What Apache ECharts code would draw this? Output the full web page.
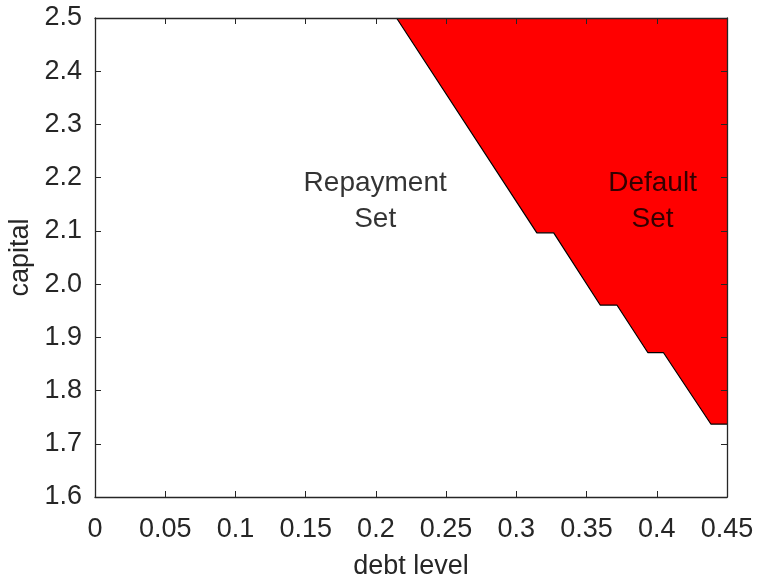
<!DOCTYPE html>
<html>
<head>
<meta charset="utf-8">
<script src="https://cdn.jsdelivr.net/npm/echarts@6/dist/echarts.min.js"></script>
<style>
html,body{margin:0;padding:0;background:#fff;}
#chart{width:757px;height:579px;}
</style>
</head>
<body>
<div id="chart"></div>
<script>
// Boundary between repayment and default sets
const debtLevel = [0.2147, 0.3146, 0.3266, 0.3597, 0.3716, 0.3937, 0.4048, 0.4385, 0.45];
const capitalLevel = [2.5, 2.0964, 2.0964, 1.9607, 1.9607, 1.8711, 1.8711, 1.7371, 1.7371];
// Region annotations: [x, y, text]
const regionLabels = [
  [0.1995, 2.155, 'Repayment\nSet'],
  [0.397, 2.155, 'Default\nSet']
];
const xAxisRange = [0, 0.45, 0.05];
const yAxisRange = [1.6, 2.5, 0.1];

const FONT = '"Liberation Sans", Arial, sans-serif';
const AX = '#262626';

const chart = echarts.init(document.getElementById('chart'), null, {renderer: 'canvas'});

const boundary = debtLevel.map((d, i) => [d, capitalLevel[i]]);

const baseX = {
  type: 'value', min: xAxisRange[0], max: xAxisRange[1], interval: xAxisRange[2],
  axisLine: {show: true, onZero: false, lineStyle: {color: AX, width: 1.3}},
  axisTick: {show: true, inside: true, length: 6, lineStyle: {color: AX}},
  splitLine: {show: false}, z: 10
};
const baseY = {
  type: 'value', min: yAxisRange[0], max: yAxisRange[1], interval: yAxisRange[2],
  axisLine: {show: true, onZero: false, lineStyle: {color: AX, width: 1.3}},
  axisTick: {show: true, inside: true, length: 6, lineStyle: {color: AX}},
  splitLine: {show: false}, z: 10
};

chart.setOption({
  animation: false,
  backgroundColor: '#ffffff',
  grid: {left: 95, top: 18, right: 30, bottom: 82, containLabel: false, outerBoundsMode: 'none'},
  xAxis: [
    Object.assign({}, baseX, {
      position: 'bottom',
      name: 'debt level', nameLocation: 'middle', nameGap: 56,
      nameTextStyle: {color: AX, fontSize: 27, fontFamily: FONT},
      axisLabel: {color: AX, fontSize: 27, fontFamily: FONT, margin: 19,
        formatter: v => String(+v.toFixed(2))}
    }),
    Object.assign({}, baseX, {position: 'top', axisLabel: {show: false}})
  ],
  yAxis: [
    Object.assign({}, baseY, {
      position: 'left',
      name: 'capital', nameLocation: 'middle', nameGap: 60,
      nameTextStyle: {color: AX, fontSize: 27, fontFamily: FONT},
      axisLabel: {color: AX, fontSize: 27, fontFamily: FONT, margin: 13,
        padding: [3, 0, 0, 0],
        formatter: v => v.toFixed(1)}
    }),
    Object.assign({}, baseY, {position: 'right', axisLabel: {show: false}})
  ],
  series: [
    {
      type: 'line',
      xAxisIndex: 0, yAxisIndex: 0,
      data: boundary,
      symbol: 'none',
      lineStyle: {color: '#000000', width: 1.2},
      areaStyle: {color: '#ff0000', opacity: 1, origin: 'end'},
      z: 2
    },
    {
      type: 'scatter',
      xAxisIndex: 0, yAxisIndex: 0,
      data: regionLabels.map(r => ({value: [r[0], r[1]], name: r[2]})),
      symbolSize: 1,
      itemStyle: {color: 'rgba(0,0,0,0)'},
      label: {
        show: true, position: 'inside',
        formatter: p => p.name,
        color: '#000000', fontSize: 28, lineHeight: 36, fontFamily: FONT, align: 'center'
      },
      z: 5
    }
  ]
});
</script>
</body>
</html>
